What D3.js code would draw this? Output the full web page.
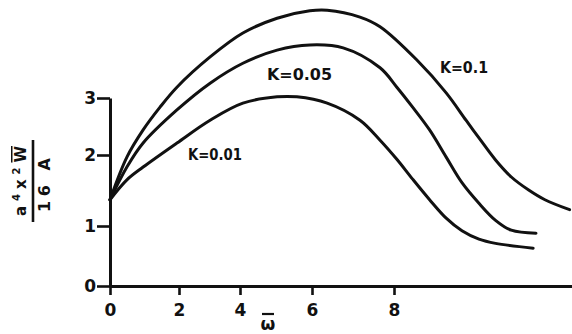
<!DOCTYPE html>
<html>
<head>
<meta charset="utf-8">
<script src="https://cdn.jsdelivr.net/npm/d3@7"></script>
<style>
  body { margin: 0; background: #fff; }
  svg { display: block; }
  text { font-family: "DejaVu Sans", sans-serif; font-weight: bold; fill: #111; }
</style>
</head>
<body>
<svg id="chart" width="572" height="334"></svg>
<script>
// tick values
const xTicks = [0, 2, 4, 6, 8]
const yTicks = [0, 1, 2, 3]

// curves: [omega, value]
const curveK001 = [
  [0, 1.37], [0.49, 1.65], [0.96, 1.83], [1.94, 2.21], [3.02, 2.61], [4.08, 2.91],
  [5.03, 3.02], [5.58, 3.02], [6.37, 2.91], [7.17, 2.61], [7.66, 2.26], [8.07, 1.94],
  [8.46, 1.66], [8.88, 1.37], [9.29, 1.11], [9.68, 0.92], [10.1, 0.78], [10.51, 0.71],
  [11.44, 0.63]
]
const curveK005 = [
  [0, 1.37], [0.49, 1.83], [0.96, 2.21], [1.94, 2.79], [3.02, 3.26], [4.08, 3.61],
  [5.03, 3.84], [5.94, 3.93], [6.76, 3.88], [7.66, 3.53], [8.07, 3.19], [8.46, 2.84],
  [8.88, 2.44], [9.29, 1.97], [9.68, 1.61], [10.1, 1.32], [10.51, 1.08], [10.9, 0.93],
  [11.51, 0.88]
]
const curveK01 = [
  [0, 1.37], [0.49, 1.97], [0.96, 2.44], [1.45, 2.84], [1.94, 3.19], [3.02, 3.72],
  [4.08, 4.14], [5.03, 4.4], [5.94, 4.53], [6.37, 4.54], [7.17, 4.42], [7.66, 4.25],
  [8.56, 3.67], [9.29, 3.09], [9.78, 2.61], [10.1, 2.3], [10.51, 1.93], [10.9, 1.69],
  [11.32, 1.51], [11.73, 1.37], [12.34, 1.23]
]
const curveLabels = ['K=0.01', 'K=0.05', 'K=0.1']

const svg = d3.select('#chart')

// hand drawn axes: tick spacing is not even, so use piecewise scales
const x = d3.scaleLinear().domain([0, 2, 4, 6, 8, 12.4]).range([110, 179, 240, 312, 394, 572])
const y = d3.scaleLinear().domain([0, 1, 2, 3]).range([286, 226, 155, 98])

const xAxis = svg.append('g')
  .attr('transform', 'translate(0,' + y(0) + ')')
  .call(d3.axisBottom(x).tickValues(xTicks).tickSize(9).tickSizeOuter(0).tickPadding(9))
const yAxis = svg.append('g')
  .attr('transform', 'translate(' + x(0) + ',0)')
  .call(d3.axisLeft(y).tickValues(yTicks).tickFormat(d3.format('d')).tickSize(13).tickSizeOuter(0).tickPadding(1))

for (let ax of [xAxis, yAxis]) {
  ax.select('.domain').attr('stroke', '#111').attr('stroke-width', 3)
  ax.selectAll('.tick line').attr('stroke', '#111').attr('stroke-width', 2.6)
  ax.selectAll('.tick text')
    .attr('fill', '#111')
    .style('font-size', '17px')
    .style('font-family', '"DejaVu Sans", sans-serif')
    .style('font-weight', 'bold')
}

// curves
const line = d3.line()
  .x(function (d) { return x(d[0]) })
  .y(function (d) { return y(d[1]) })
  .curve(d3.curveCatmullRom.alpha(0.5))

svg.selectAll('.curve')
  .data([curveK001, curveK005, curveK01])
  .enter()
  .append('path')
  .attr('class', 'curve')
  .attr('d', line)
  .attr('fill', 'none')
  .attr('stroke', '#111')
  .attr('stroke-width', 3)
  .attr('stroke-linecap', 'round')

// curve labels
const labelPos = [
  { x: 188, y: 160, len: 54 },
  { x: 267, y: 80, len: 65 },
  { x: 440, y: 73, len: 48 }
]
svg.selectAll('.klabel')
  .data(curveLabels)
  .enter()
  .append('text')
  .attr('class', 'klabel')
  .attr('x', function (d, i) { return labelPos[i].x })
  .attr('y', function (d, i) { return labelPos[i].y })
  .attr('textLength', function (d, i) { return labelPos[i].len })
  .attr('lengthAdjust', 'spacingAndGlyphs')
  .style('font-size', '16px')
  .text(function (d) { return d })

// x label: omega bar
svg.append('text')
  .attr('x', 268)
  .attr('y', 330)
  .attr('text-anchor', 'middle')
  .style('font-size', '17px')
  .text('ω')
svg.append('line')
  .attr('x1', 262).attr('x2', 274)
  .attr('y1', 314).attr('y2', 314)
  .attr('stroke', '#111').attr('stroke-width', 2.2)

// y label: a^4 x^2 Wbar / 16 A, rotated
const ylab = svg.append('g').attr('transform', 'translate(33,181) rotate(-90)')
ylab.append('line')
  .attr('x1', -41).attr('x2', 41)
  .attr('stroke', '#111').attr('stroke-width', 2.6)
const num = ylab.append('text')
  .attr('x', 0)
  .attr('y', -7)
  .attr('text-anchor', 'middle')
  .attr('textLength', 70)
  .style('font-size', '15px')
num.append('tspan').text('a')
num.append('tspan').attr('dy', -6).style('font-size', '10px').text('4')
num.append('tspan').attr('dy', 6).text('x')
num.append('tspan').attr('dy', -6).style('font-size', '10px').text('2')
num.append('tspan').attr('dy', 6).style('text-decoration', 'overline').text('W')
ylab.append('text')
  .attr('x', -4)
  .attr('y', 17)
  .attr('text-anchor', 'middle')
  .attr('textLength', 54)
  .style('font-size', '16px')
  .text('16 A')
</script>
</body>
</html>
